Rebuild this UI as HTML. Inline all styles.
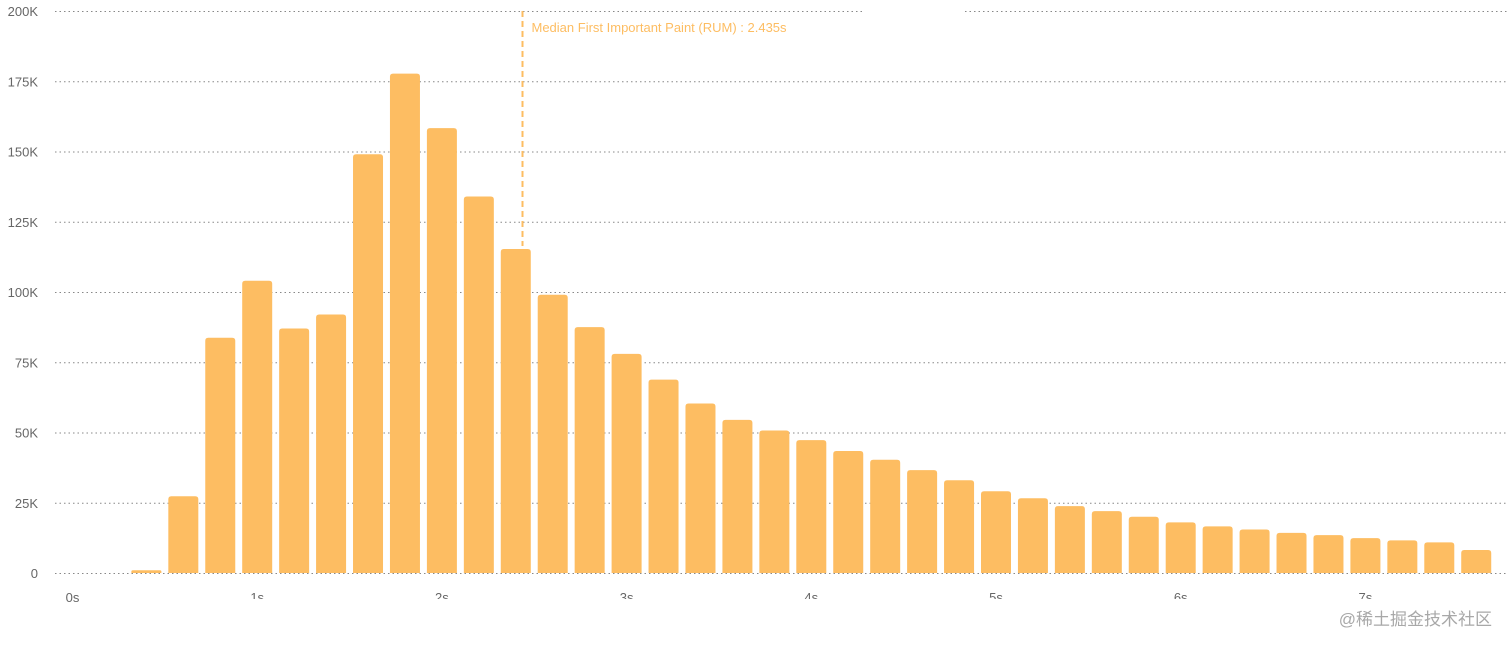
<!DOCTYPE html>
<html><head><meta charset="utf-8"><style>
html,body{margin:0;padding:0;background:#fff;width:1512px;height:648px;overflow:hidden;font-family:"Liberation Sans",sans-serif}
</style></head><body>
<svg id="chart" width="1512" height="648" xmlns="http://www.w3.org/2000/svg">
<defs><clipPath id="xclip"><rect x="0" y="0" width="1512" height="599"/></clipPath></defs>
<g id="grid"></g>
<g id="yaxis"></g>
<g id="bars"></g>
<g id="xaxis"></g>
<g id="median"></g>
<text x="1492" y="625" text-anchor="end" font-size="17" fill="#a8a8a8" font-family="'Liberation Sans','Noto Sans CJK SC',sans-serif">@稀土掘金技术社区</text>
</svg>
<script>
const binStarts = [0,0.2,0.4,0.6,0.8,1.0,1.2,1.4,1.6,1.8,2.0,2.2,2.4,2.6,2.8,3.0,3.2,3.4,3.6,3.8,4.0,4.2,4.4,4.6,4.8,5.0,5.2,5.4,5.6,5.8,6.0,6.2,6.4,6.6,6.8,7.0,7.2,7.4,7.6];
const counts = [0,0,1000,27300,83700,104000,87000,92000,149000,177700,158300,134000,115300,99000,87500,78000,68800,60300,54500,50700,47300,43400,40300,36600,33000,29100,26600,23800,22000,20000,18000,16600,15500,14300,13500,12400,11600,10900,8200];
const yTicks = [0,25000,50000,75000,100000,125000,150000,175000,200000];
const yTickLabels = ["0","25K","50K","75K","100K","125K","150K","175K","200K"];
const xTicks = [0,1,2,3,4,5,6,7];
const xTickLabels = ["0s","1s","2s","3s","4s","5s","6s","7s"];
const medianValue = 2.435;
const medianLabel = "Median First Important Paint (RUM) : 2.435s";

const NS="http://www.w3.org/2000/svg";
const y0=573, yTop=11, yMax=200000;
const x0=72.5, pxPerSec=184.7;
const ys=v=>y0-(v/yMax)*(y0-yTop);
const xs=s=>x0+s*pxPerSec;
function mk(tag,attrs,parent){const e=document.createElementNS(NS,tag);for(const k in attrs)e.setAttribute(k,attrs[k]);parent.appendChild(e);return e;}
const grid=document.getElementById('grid'),yaxis=document.getElementById('yaxis'),bars=document.getElementById('bars'),xaxis=document.getElementById('xaxis'),med=document.getElementById('median');
yTicks.forEach((t,i)=>{
  const y=ys(t)+0.5;
  if(i===yTicks.length-1){
    const l1=mk('line',{x1:55,x2:865,y1:y,y2:y,stroke:'#888','stroke-dasharray':'1.5 3'},grid);
    
    const l2=mk('line',{x1:965,x2:1508,y1:y,y2:y,stroke:'#888','stroke-dasharray':'1.5 3'},grid);
    
  } else {
    const l=mk('line',{x1:55,x2:1508,y1:y,y2:y,stroke:'#888','stroke-dasharray':'1.5 3'},grid);
    
  }
  const tx=mk('text',{x:38,y:ys(t)+5,'text-anchor':'end','font-size':13,fill:'#666'},yaxis);
  tx.textContent=yTickLabels[i];
  
});
const bw=30;
binStarts.forEach((s,i)=>{
  const v=counts[i]; if(v<=0) return;
  const cx=xs(s), top=ys(v), h=y0-top;
  const r=Math.min(3,h/2);
  const p=mk('path',{d:`M${cx-bw/2},${y0} V${top+r} Q${cx-bw/2},${top} ${cx-bw/2+r},${top} H${cx+bw/2-r} Q${cx+bw/2},${top} ${cx+bw/2},${top+r} V${y0} Z`,fill:'#fdbd62'},bars);
  
});
xTicks.forEach((t,i)=>{
  const tx=mk('text',{x:xs(t),y:602,'text-anchor':'middle','font-size':13,fill:'#666'},xaxis);
  if(i>0) tx.setAttribute('clip-path','url(#xclip)');
  tx.textContent=xTickLabels[i];
  
});
const mx=Math.round(xs(medianValue))+0.5;
const ml=mk('line',{x1:mx,x2:mx,y1:11,y2:246,stroke:'#fdbd62','stroke-width':2,'stroke-dasharray':'6 4'},med);

const mt=mk('text',{x:mx+9,y:32,'font-size':13,fill:'#fdbd62'},med);
mt.textContent=medianLabel;

</script>
</body></html>
